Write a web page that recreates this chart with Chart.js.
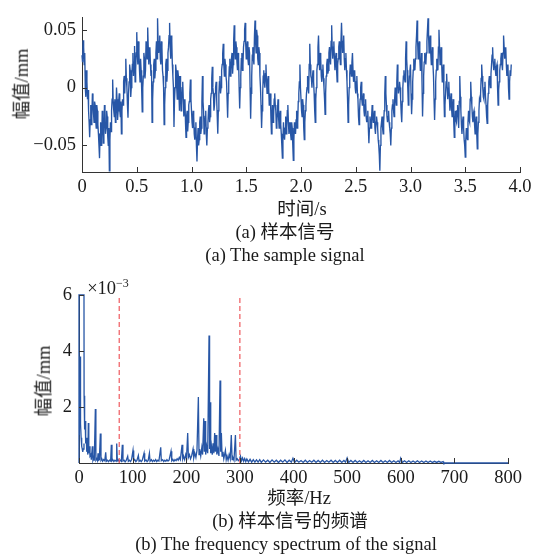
<!DOCTYPE html>
<html><head><meta charset="utf-8">
<script src="https://cdn.jsdelivr.net/npm/chart.js@4/dist/chart.umd.min.js"></script>
<style>
html,body{margin:0;padding:0;background:#fff;}
#wrap{position:relative;width:545px;height:554px;overflow:hidden;font-family:'Liberation Serif','Noto Sans CJK SC',serif;color:#1a1a1a;}
canvas{position:absolute;left:0;}
.t{position:absolute;white-space:nowrap;transform:translate(-50%,-50%);font-size:18.5px;line-height:1;}
.rot{transform:translate(-50%,-50%) rotate(-90deg);}
sup{font-size:12px;vertical-align:7px;}
</style></head>
<body>
<div id="wrap">
<canvas id="c1" width="545" height="200" style="top:0;width:545px;height:200px"></canvas>
<canvas id="c2" width="545" height="230" style="top:270px;width:545px;height:230px"></canvas>
<div class="t rot" style="left:22px;top:84px">幅值/mm</div>
<div class="t" style="left:302px;top:209px">时间/s</div>
<div class="t" style="left:285px;top:232px">(a) 样本信号</div>
<div class="t" style="left:285px;top:255px">(a) The sample signal</div>
<div class="t rot" style="left:44px;top:381px">幅值/mm</div>
<div class="t" style="left:108px;top:287px">×10<sup>−3</sup></div>
<div class="t" style="left:299px;top:498px">频率/Hz</div>
<div class="t" style="left:290px;top:521px">(b) 样本信号的频谱</div>
<div class="t" style="left:286px;top:544px">(b) The frequency spectrum of the signal</div>
</div>
<script>
// ---- (a) sample signal: amplitude (mm), one value every 0.01 s from t = 0 (one row per 0.1 s) ----
const sampleInterval = 0.01;
const signalValues = [
.028,.041,.02,.0,.015,-.01,-.02,-.043,-.015,-.025,
-.01,-.03,-.015,-.035,-.02,-.04,-.061,-.03,-.045,-.025,
-.04,-.02,-.035,-.025,-.05,-.072,-.03,-.02,.007,-.02,
-.01,-.025,-.01,-.02,-.005,-.025,-.04,-.01,.005,-.005,
.025,.0,-.026,.005,.015,.0,.02,.01,.036,.015,
.048,.02,.03,.005,.015,-.021,.01,.025,.015,.035,
.052,.02,.035,.01,-.03,.005,.025,.015,.04,.06,
.03,.045,.02,.035,.01,-.032,.0,.025,.015,.035,
.056,.025,.04,.01,-.034,.0,.015,-.01,.01,-.02,
.0,-.015,.005,-.025,-.01,-.043,-.02,-.03,-.012,.007,
-.02,-.035,-.025,-.045,-.03,-.064,-.035,-.045,-.025,-.035,
.01,-.02,-.035,-.02,-.05,-.03,-.015,-.025,-.005,.018,
-.005,-.015,.0,-.01,-.04,-.005,.01,.0,.02,.038,
.01,.02,.005,-.026,.005,.025,.015,.03,.02,.054,
.025,.035,.015,.025,-.018,.01,.03,.02,.04,.056,
.025,.04,.02,.03,-.027,.01,.035,.02,.058,.03,
.045,.02,.03,.0,-.035,-.005,.015,.0,.02,-.005,
.01,-.015,-.005,-.04,-.015,-.025,-.005,-.02,-.03,-.01,
-.035,-.02,-.04,-.061,-.03,-.045,-.025,-.035,-.015,-.04,
-.03,-.045,-.035,-.063,-.03,-.04,-.02,-.03,-.005,.02,
-.01,-.025,-.015,-.045,-.02,-.005,.01,-.005,.038,.01,
.0,.015,-.005,-.03,.0,.02,.045,.015,.025,.005,
.02,.0,-.023,.01,.025,.015,.035,.02,.054,.025,
.04,.015,.03,.005,.025,.04,.02,.056,.03,.045,
.015,.03,.005,-.03,.0,.02,.01,.03,.005,.015,
-.005,.01,-.01,-.032,-.01,.005,-.015,-.005,-.025,-.01,
-.03,-.02,-.048,-.025,-.035,-.015,-.03,-.02,-.04,-.025,
-.035,-.05,-.072,-.035,-.025,-.04,-.02,.01,-.015,-.03,
-.02,-.035,-.05,-.02,-.01,-.025,.0,-.015,.02,-.005,
.005,-.01,-.03,.0,.015,.005,.04,.015,-.015,.01,
.02,-.023,.005,.025,.015,.035,.058,.025,.04,.015,
.03,-.025,.01,.03,.02,.04,.06,.03,.045,.02,
.035,.01,-.028,.005,.025,.015,.05,.02,.035,.005,
.02,-.025,-.005,.012,-.01,.005,-.02,-.005,-.025,-.01,
-.043,-.02,-.03,-.015,-.035,.01,-.02,-.04,-.025,-.045,
-.06,-.035,-.045,-.02,-.03,.005,-.015,-.03,-.02,-.04,
-.025,-.053,-.03,-.01,-.005,.02,.0,-.01,.005,-.015,
-.031,-.005,.01,.0,.02,.035,.015,.025,.01,.02,
-.015,.005,.02,.03,.015,.045,.025,.035,.01,.02,
-.01,.015,.02
];
// values read half-way between consecutive samples above (t + 0.005 s)
const signalMidValues = [
.022,.035,.03,-.008,.005,-.002,-.03,-.028,-.032,-.005,
-.022,-.012,-.028,-.015,-.032,-.05,-.04,-.05,-.02,-.048,
-.015,-.04,-.02,-.042,-.035,-.045,-.038,-.01,-.012,-.025,
-.03,.0,-.028,-.012,-.02,-.012,-.02,-.015,.01,.01,
.008,-.015,-.005,.02,-.008,.012,.03,.022,.005,.03,
.03,.04,.015,.025,-.002,.0,.03,.008,.04,.025,
.035,.03,.02,.015,-.01,.02,.008,.03,.025,.04,
.04,.025,.04,.015,.0,-.015,.02,.005,.03,.045,
.035,.045,.02,.0,-.01,.02,.0,.015,-.005,.01,
-.02,.0,-.01,-.015,-.03,-.025,-.038,-.015,-.005,-.01,
-.03,-.02,-.04,-.035,-.05,-.045,-.05,-.03,-.04,-.012,
-.012,-.04,-.025,-.04,-.035,-.02,-.03,-.01,.008,.0,
-.02,-.005,.005,-.025,-.02,.005,-.005,.015,.03,.02,
.025,.01,-.01,-.005,.018,.01,.025,.012,.04,.035,
.04,.022,.03,.0,.0,.025,.015,.035,.05,.038,
.035,.025,.035,.0,-.005,.028,.025,.045,.04,.05,
.025,.035,.01,-.015,-.02,.01,.005,.012,.005,.005,
.0,-.01,-.025,-.025,-.03,-.01,-.015,-.035,-.02,-.025,
-.025,-.032,-.05,-.045,-.04,-.035,-.04,-.02,-.03,-.035,
-.04,-.03,-.05,-.045,-.035,-.028,-.035,-.012,.005,.0,
-.02,-.01,-.035,-.03,-.015,.0,.0,.02,.02,.008,
.01,.005,-.02,-.01,.015,.035,.025,.03,.01,.015,
.008,-.01,-.005,.02,.012,.03,.025,.04,.035,.035,
.025,.025,.015,.02,.035,.028,.04,.04,.04,.025,
.025,.015,-.01,-.015,.012,.015,.022,.015,.01,.0,
.005,-.005,-.025,-.02,.0,-.01,-.01,-.02,-.015,-.025,
-.025,-.035,-.035,-.03,-.025,-.025,-.025,-.035,-.03,-.03,
-.045,-.058,-.05,-.03,-.035,-.03,-.005,-.005,-.025,-.025,
-.03,-.04,-.035,-.015,-.02,-.01,-.01,.005,.005,.0,
.0,-.022,-.012,.01,.008,.025,.025,.0,.0,.015,
-.005,-.01,.015,.02,.025,.045,.04,.035,.025,.02,
.005,-.005,.022,.025,.03,.05,.045,.04,.03,.028,
.02,-.01,-.01,.015,.02,.035,.035,.028,.02,.012,
-.005,-.015,.005,.0,-.002,-.008,-.012,-.018,-.015,-.03,
-.03,-.028,-.02,-.025,-.012,-.008,-.032,-.03,-.035,-.05,
-.045,-.042,-.03,-.028,-.01,-.008,-.025,-.022,-.032,-.03,
-.04,-.04,-.02,-.012,.008,.01,-.008,.0,-.008,-.025,
-.015,.005,.005,.012,.028,.022,.022,.015,.018,.0,
-.002,.015,.025,.02,.03,.035,.03,.02,.018,.0,
.005,.01
];
const timeTicks = [0,0.5,1.0,1.5,2.0,2.5,3.0,3.5,4.0];
const timeTickLabels = ['0','0.5','1.0','1.5','2.0','2.5','3.0','3.5','4.0'];
const signalYTicks = [-0.05,0,0.05];
const signalYTickLabels = ['\u22120.05','0','0.05'];

// ---- (b) spectrum: frequency (Hz) and amplitude (x10^-3 mm) ----
const specFreq = [0,0,9.3,9.5,10.5,11.5,12.5,13.5,14.5,15.5,16.5,17.4,18.3,19.5,20.5,22,23,24.9,26,27.5,28.5,30.5,31.5,33,34.5,35.5,36.5,38,39.8,41,42.5,44,46,48,49.8,51,53,55,57,59,60.3,61.5,63,65,67,69,70.3,71.5,73,75,77,79,80.8,82,84,86,88,90.8,92,94,96,98,100.7,102,104,106,108,110.7,112,114,116,118,121.3,122.5,125,127,129,131.3,132.5,135,137,139,141,143,145,147,149,152.4,153.5,156,158,160,162,164,166,168,171.6,173,175,177,179,181,183,185,187,189,192.2,193.5,195,197,199,200.5,202.7,204,206,208,210,212.7,214,216,218,220,222.6,223.8,225,227,229,230.5,232.6,233.8,235,236.2,238,240,242.5,243.5,244.4,245.6,247,248.5,250,251.5,253,254.2,255.6,257,259,261,263,264.2,265.5,266.8,268.5,270,271.5,273,274.5,276,278,280,282,284,285.5,287,289,291.7,293,295,297,299,
301,303,305,307,309,311,313,316,319,322,325,328,331,334,337,340,344,348,352,356,360,364,368,372,376,380,384,388,392,396,399,402,406,410,414,418,422,426,430,434,438,442,446,450,454,458,462,466,470,474,478,482,486,490,494,497,500,503,507,511,515,519,523,527,531,535,539,543,547,551,555,559,563,567,571,575,579,583,587,591,595,598,600,603,607,611,615,619,623,627,631,635,639,643,647,651,655,659,663,667,671,675,679,680,800];
const specAmp = [0,6,6,2.4,1.2,1.5,0.7,0.9,0.4,0.5,0.3,1.43,0.35,0.6,0.25,0.3,0.12,0.6,0.1,0.2,0.08,1.93,0.1,0.15,0.08,0.35,0.1,0.12,1.05,0.1,0.15,0.06,0.12,0.08,0.38,0.06,0.1,0.05,0.1,0.07,0.65,0.08,0.12,0.05,0.1,0.07,0.7,0.08,0.12,0.05,0.1,0.06,0.65,0.07,0.1,0.04,0.09,0.24,0.06,0.1,0.05,0.12,0.45,0.08,0.12,0.05,0.09,0.27,0.06,0.1,0.05,0.1,0.35,0.07,0.11,0.05,0.09,0.35,0.06,0.12,0.05,0.1,0.06,0.12,0.05,0.1,0.07,0.56,0.08,0.12,0.05,0.1,0.06,0.12,0.07,0.1,0.42,0.08,0.13,0.06,0.12,0.08,0.15,0.1,0.2,0.12,0.65,0.15,0.25,0.12,0.3,0.18,1.07,0.2,0.3,0.15,0.25,0.5,0.18,0.35,0.2,0.45,2.36,0.3,0.5,0.25,0.55,0.3,1.6,0.4,1.5,0.3,0.6,0.35,4.55,0.5,2.17,0.35,0.6,0.3,0.7,0.35,1.07,0.4,1.0,0.3,0.5,0.25,2.95,0.4,1.07,0.25,0.4,0.15,0.3,0.45,0.12,0.25,0.1,0.3,0.15,1.0,0.12,0.2,0.1,1.0,0.1,0.15,0.08,0.12,
.25,.08,.18,.06,.16,.05,.14,.04,.13,.03,.12,.03,.11,.03,.12,.02,.11,.03,.1,.02,.11,.03,.1,.02,.1,.03,.11,.02,.1,.03,.17,.02,.1,.03,.09,.02,.1,.02,.09,.03,.1,.02,.09,.02,.1,.02,.09,.03,.1,.02,.09,.02,.1,.02,.09,.03,.18,.02,.09,.02,.09,.02,.08,.02,.09,.02,.08,.02,.09,.02,.08,.02,.09,.02,.08,.02,.09,.02,.08,.02,.08,.02,.17,.02,.08,.02,.08,.02,.07,.02,.08,.02,.07,.02,.07,.02,.07,.02,.06,.02,.06,.02,.05,0,0];
// low-frequency decay drawn inside the clipped DC block
const lowFreq = [0.5,1.9,2.5,3.2,4,5,6,7,8,9.3];
const lowAmp = [1.0,3.8,2.0,1.4,0.9,0.6,0.5,0.4,0.5,0.7];
const bandEdgesHz = [75,300];
const freqTicks = [0,100,200,300,400,500,600,700,800];
const freqTickLabels = ['0','100','200','300','400','500','600','700','800'];
const specYTicks = [2,4,6];
const specYTickLabels = ['2','4','6'];

const BLUE = '#2756a6';
const RED = '#ee5a5e';
const AXIS = '#333333';
const tickFont = {family:"'Liberation Serif','Times New Roman',serif", size:18.5};

const inwardTicks = {
  id:'inwardTicks',
  afterDatasetsDraw(chart){
    const ctx = chart.ctx; const {left,bottom} = chart.chartArea;
    const xs = chart.scales.x, ys = chart.scales.y;
    ctx.save(); ctx.strokeStyle = AXIS; ctx.lineWidth = 1;
    xs.ticks.forEach((t,i)=>{const px=Math.round(xs.getPixelForTick(i))+0.5;ctx.beginPath();ctx.moveTo(px,bottom);ctx.lineTo(px,bottom-5);ctx.stroke();});
    ys.ticks.forEach((t,i)=>{const py=Math.round(ys.getPixelForTick(i))+0.5;ctx.beginPath();ctx.moveTo(left,py);ctx.lineTo(left+5,py);ctx.stroke();});
    ctx.restore();
  }
};

function axisOpts(min,max,ticks,labels,pad,fit){
  return {
    type:'linear', min:min, max:max,
    afterBuildTicks:s=>{s.ticks = ticks.map(v=>({value:v}));},
    afterFit:fit,
    grid:{display:false, drawTicks:false},
    border:{display:true, color:AXIS, width:1},
    ticks:{font:tickFont, color:'#1a1a1a', padding:pad, maxRotation:0, autoSkip:false,
      callback:(v)=>{const i=ticks.indexOf(v);return i>=0?labels[i]:'';}}
  };
}

const signalPoints = [];
signalValues.forEach((v,i)=>{
  signalPoints.push({x:i*sampleInterval, y:v});
  if (i < signalMidValues.length) signalPoints.push({x:(i+0.5)*sampleInterval, y:signalMidValues[i]});
});

new Chart(document.getElementById('c1'),{
  type:'line',
  data:{datasets:[{
    data:signalPoints,
    borderColor:BLUE, borderWidth:1.35, pointRadius:0, tension:0, clip:1
  }]},
  options:{
    responsive:false, animation:false, devicePixelRatio:1,
    layout:{padding:{left:0,right:25,top:7,bottom:0}},
    plugins:{legend:{display:false},tooltip:{enabled:false}},
    scales:{
      x:axisOpts(0,4,timeTicks,timeTickLabels,4,s=>{s.height=28;}),
      y:axisOpts(-0.073,0.061,signalYTicks,signalYTickLabels,6,s=>{s.width=82;})
    }
  },
  plugins:[inwardTicks]
});

const redSets = bandEdgesHz.map(e=>({
  data:[{x:e,y:0},{x:e,y:6}], borderColor:RED, borderWidth:1.2, borderDash:[5,3],
  pointRadius:0, order:0
}));

new Chart(document.getElementById('c2'),{
  type:'line',
  data:{datasets:[
    ...redSets,
    {data:specFreq.map((f,i)=>({x:f,y:specAmp[i]})), borderColor:BLUE, borderWidth:1.3, pointRadius:0, tension:0, order:1, clip:2},
    {data:lowFreq.map((f,i)=>({x:f,y:lowAmp[i]})), borderColor:BLUE, borderWidth:1.3, pointRadius:0, tension:0, order:1}
  ]},
  options:{
    responsive:false, animation:false, devicePixelRatio:1,
    layout:{padding:{left:0,right:37,top:25,bottom:0}},
    plugins:{legend:{display:false},tooltip:{enabled:false}},
    scales:{
      x:axisOpts(0,800,freqTicks,freqTickLabels,4,s=>{s.height=37;}),
      y:axisOpts(0,6,specYTicks,specYTickLabels,7,s=>{s.width=79;})
    }
  },
  plugins:[inwardTicks]
});
</script>
</body></html>
